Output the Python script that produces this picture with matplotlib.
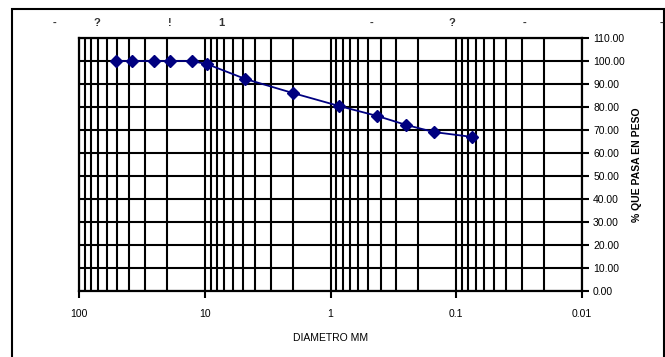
import matplotlib
matplotlib.use("Agg")
import matplotlib.pyplot as plt
import matplotlib.ticker as ticker
import matplotlib.patches as mpatches

plt.rcParams["font.family"] = ["Liberation Sans", "DejaVu Sans"]

# granulometric curve: sieve opening (mm) vs % passing
diametro = [50.8, 38.1, 25.4, 19.05, 12.7, 9.525, 4.76, 2.0, 0.85, 0.425, 0.25, 0.15, 0.075]
pasa = [100.0, 100.0, 100.0, 100.0, 100.0, 98.6, 92.2, 86.1, 80.4, 76.1, 72.2, 69.1, 67.0]

x_ticks = [100, 10, 1, 0.1, 0.01]
x_labels = ["100", "10", "1", "0.1", "0.01"]
y_ticks = list(range(0, 111, 10))

# faint leftover labels along the top of the sheet (fig. fraction x)
top_marks = ["-", "?", "!", "1", "-", "?", "-", "-"]
top_pos = [0.082, 0.146, 0.256, 0.333, 0.558, 0.679, 0.789, 0.995]

NAVY = "#000080"
W, H = 665, 357

fig = plt.figure(figsize=(W / 100, H / 100), dpi=100, facecolor="white")
ax = fig.add_axes([79 / W, 1 - 291 / H, (582 - 79) / W, (291 - 38) / H])

ax.set_xscale("log")
ax.set_xlim(100, 0.01)
ax.set_ylim(0, 110)

ax.grid(True, which="both", axis="x", color="black", lw=1.5)
ax.grid(True, which="major", axis="y", color="black", lw=1.5)
ax.set_axisbelow(True)

ax.plot(diametro, pasa, color=NAVY, lw=1.3, marker="D", ms=6.5, mec=NAVY, mfc=NAVY, zorder=3)

ax.set_xticks(x_ticks)
ax.set_xticklabels(x_labels)
ax.xaxis.set_minor_locator(ticker.LogLocator(base=10, subs=range(2, 10), numticks=20))
ax.xaxis.set_minor_formatter(ticker.NullFormatter())
ax.tick_params(axis="x", which="major", direction="out", length=5, width=1.5,
               labelsize=7.5, pad=8, colors="black")
ax.tick_params(axis="x", which="minor", length=0)

ax.yaxis.tick_right()
ax.yaxis.set_label_position("right")
ax.set_yticks(y_ticks)
ax.yaxis.set_major_formatter(ticker.FormatStrFormatter("%.2f"))
ax.tick_params(axis="y", direction="out", length=5, width=1.5, labelsize=7.5, pad=3)

for s in ax.spines.values():
    s.set_linewidth(1.6)
    s.set_color("black")

ax.set_xlabel("DIAMETRO MM", fontsize=7.5, labelpad=10)
ax.set_ylabel("% QUE PASA EN PESO", fontsize=7.5, labelpad=5, fontweight="bold")

for t, xp in zip(top_marks, top_pos):
    fig.text(xp, 1 - 23 / H, t, fontsize=8, color="#333333", ha="center", va="center",
             fontweight="bold")

frame = mpatches.Rectangle((12 / W, -0.05), (664 - 12) / W, 1 - 9 / H + 0.05,
                           transform=fig.transFigure, fill=False, ec="black", lw=1.5)
fig.patches.append(frame)

fig.savefig("out.png", dpi=100, facecolor="white")
